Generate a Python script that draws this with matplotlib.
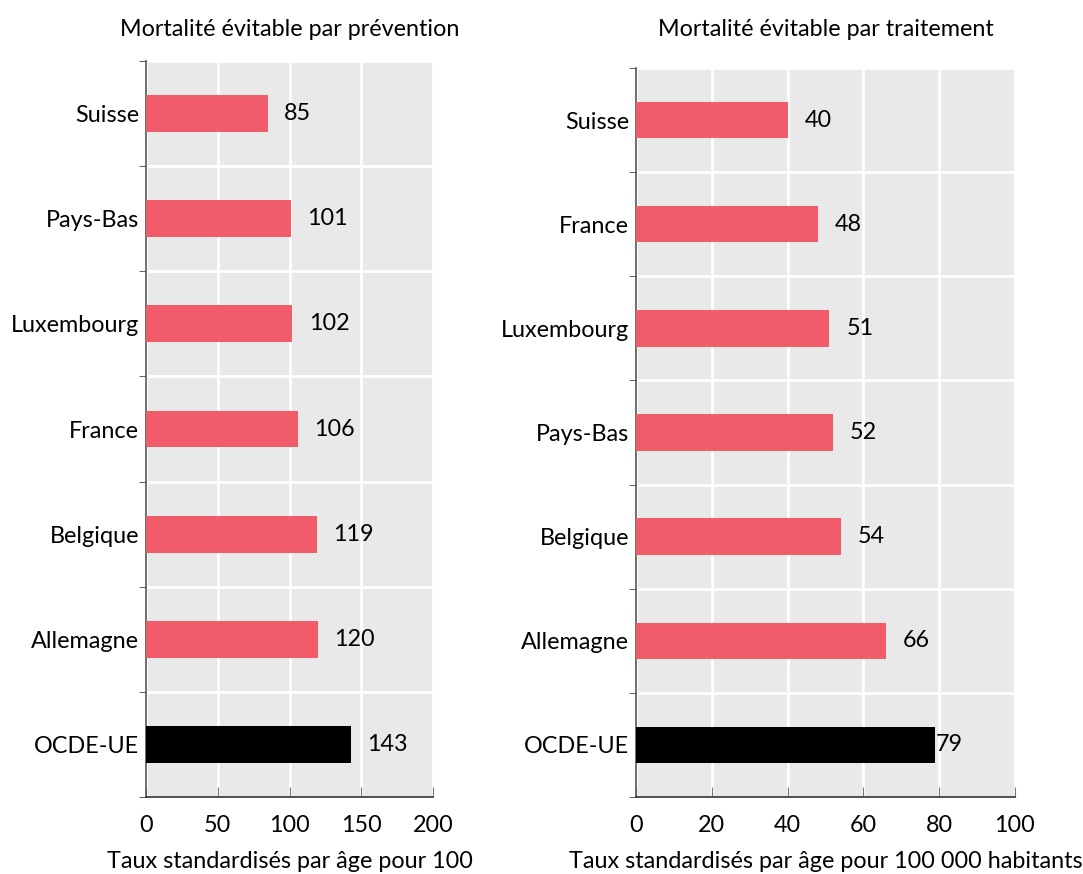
import matplotlib
matplotlib.use('Agg')
import matplotlib.pyplot as plt
import numpy as np

plt.rcParams['font.family'] = ['Lato', 'DejaVu Sans']

prev_countries = ['Suisse', 'Pays-Bas', 'Luxembourg', 'France', 'Belgique', 'Allemagne', 'OCDE-UE']
prev_values = [85, 101, 102, 106, 119, 120, 143]

trait_countries = ['Suisse', 'France', 'Luxembourg', 'Pays-Bas', 'Belgique', 'Allemagne', 'OCDE-UE']
trait_values = [40, 48, 51, 52, 54, 66, 79]

RED = '#F15C6A'
BG = '#E9E9E9'
W, H = 1083, 874
FS = 16.8

fig = plt.figure(figsize=(W / 100, H / 100), dpi=100)


def panel(box, countries, values, xmax, step, title, xlabel, title_pad, offsets):
    l, t, r, b = box
    ax = fig.add_axes([l / W, 1 - b / H, (r - l) / W, (b - t) / H])
    ax.set_facecolor(BG)
    y = np.arange(len(countries))
    colors = ['black' if c == 'OCDE-UE' else RED for c in countries]
    ax.barh(y, values, height=0.35, color=colors, zorder=3)
    for yi, v, off in zip(y, values, offsets):
        ax.text(v + off * xmax, yi, str(v), va='center', ha='left', fontsize=FS, zorder=4)
    ax.set_xlim(0, xmax)
    ax.set_ylim(len(countries) - 0.5, -0.5)
    ax.set_xticks(np.arange(0, xmax + 1, step))
    ax.set_yticks(y)
    ax.set_yticklabels(countries)
    ax.set_yticks(np.arange(-0.5, len(countries)), minor=True)
    ax.tick_params(axis='y', which='major', length=0, labelsize=FS, pad=5)
    ax.tick_params(axis='y', which='minor', length=5, color='#444444', direction='out')
    ax.tick_params(axis='x', which='major', length=7, color='#777777', direction='in',
                   labelsize=FS, pad=13)
    ax.grid(axis='x', which='major', color='white', linewidth=2, zorder=1)
    ax.grid(axis='y', which='minor', color='white', linewidth=2, zorder=1)
    ax.set_axisbelow(True)
    for s in ['top', 'right']:
        ax.spines[s].set_visible(False)
    ax.spines['left'].set_color('#555555')
    ax.spines['bottom'].set_color('#333333')
    ax.spines['left'].set_linewidth(1.2)
    ax.spines['bottom'].set_linewidth(1.2)
    ax.set_title(title, fontsize=FS, pad=title_pad)
    ax.set_xlabel(xlabel, fontsize=FS, labelpad=11)
    return ax


panel((146, 61, 433, 797), prev_countries, prev_values, 200, 50,
      'Mortalité évitable par prévention', 'Taux standardisés par âge pour 100',
      18, [0.057] * 7)
panel((636, 68, 1015, 797), trait_countries, trait_values, 100, 20,
      'Mortalité évitable par traitement', 'Taux standardisés par âge pour 100 000 habitants',
      23, [0.045] * 6 + [0.0])

fig.savefig('out.png', dpi=100)
